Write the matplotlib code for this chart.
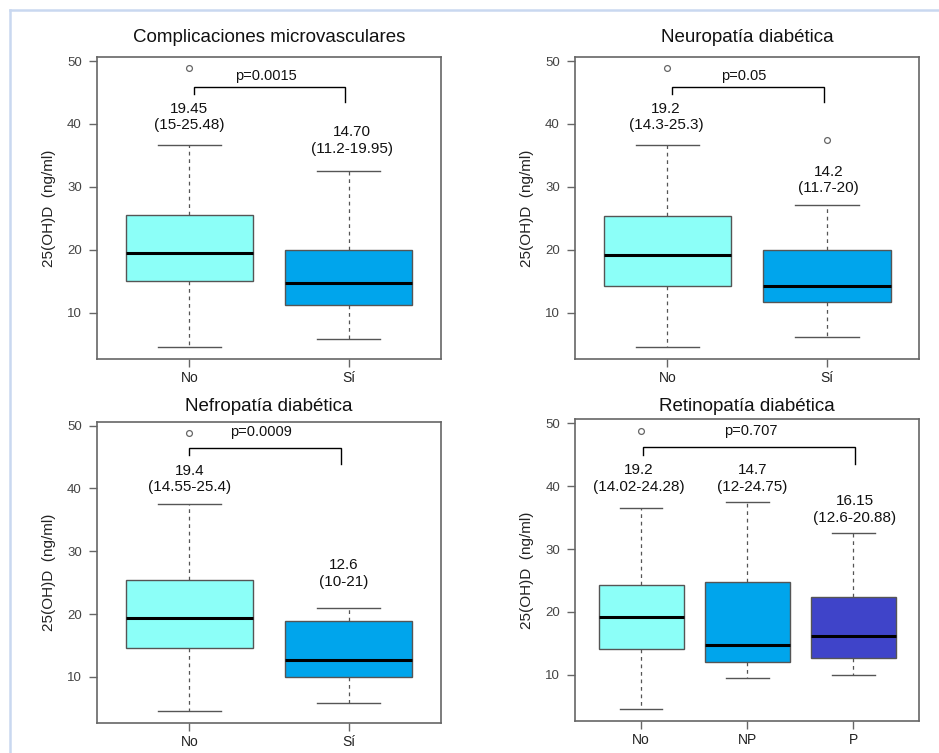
import matplotlib
matplotlib.use("Agg")
import matplotlib.pyplot as plt
from matplotlib.lines import Line2D

plt.rcParams['font.family'] = ['Liberation Sans', 'DejaVu Sans']

# ---- Complicaciones microvasculares ----
micro_groups = ["No", "Sí"]
micro_med = [19.45, 14.70]
micro_q1 = [15.0, 11.2]
micro_q3 = [25.48, 19.95]
micro_lo = [4.5, 5.8]
micro_hi = [36.6, 32.5]
micro_out = [[48.85], []]
micro_labels = ["19.45\n(15-25.48)", "14.70\n(11.2-19.95)"]
micro_p = "p=0.0015"

# ---- Neuropatía diabética ----
neuro_groups = ["No", "Sí"]
neuro_med = [19.2, 14.2]
neuro_q1 = [14.3, 11.7]
neuro_q3 = [25.3, 20.0]
neuro_lo = [4.5, 6.1]
neuro_hi = [36.6, 27.1]
neuro_out = [[48.85], [37.5]]
neuro_labels = ["19.2\n(14.3-25.3)", "14.2\n(11.7-20)"]
neuro_p = "p=0.05"

# ---- Nefropatía diabética ----
nefro_groups = ["No", "Sí"]
nefro_med = [19.4, 12.6]
nefro_q1 = [14.55, 10.0]
nefro_q3 = [25.4, 18.85]
nefro_lo = [4.5, 5.8]
nefro_hi = [37.5, 21.0]
nefro_out = [[48.85], []]
nefro_labels = ["19.4\n(14.55-25.4)", "12.6\n(10-21)"]
nefro_p = "p=0.0009"

# ---- Retinopatía diabética ----
retino_groups = ["No", "NP", "P"]
retino_med = [19.2, 14.7, 16.15]
retino_q1 = [14.02, 12.0, 12.6]
retino_q3 = [24.28, 24.75, 22.4]
retino_lo = [4.5, 9.5, 9.9]
retino_hi = [36.6, 37.5, 32.5]
retino_out = [[48.85], [], []]
retino_labels = ["19.2\n(14.02-24.28)", "14.7\n(12-24.75)", "16.15\n(12.6-20.88)"]
retino_p = "p=0.707"

FILL = ["#8cfff8", "#00a5ec", "#3f44c9"]

W, H = 939, 753
fig = plt.figure(figsize=(W / 100, H / 100), dpi=100)
fig.patch.set_facecolor("white")


def frac(x0, y_top, x1, y_bot):
    return [x0 / W, 1 - y_bot / H, (x1 - x0) / W, (y_bot - y_top) / H]


panels = [
    dict(title="Complicaciones microvasculares", rect=frac(97, 57, 441, 359), title_y=37.7,
         groups=micro_groups, med=micro_med, q1=micro_q1, q3=micro_q3, lo=micro_lo,
         hi=micro_hi, out=micro_out, labels=micro_labels, p=micro_p,
         label_pos=[(1.0, 41.1), (2.02, 37.4)],
         bracket=(1.03, 1.98, 45.9, 44.7, 43.45), p_pos=(1.48, 47.6)),
    dict(title="Neuropatía diabética", rect=frac(575, 57, 919.3, 359), title_y=37.7,
         groups=neuro_groups, med=neuro_med, q1=neuro_q1, q3=neuro_q3, lo=neuro_lo,
         hi=neuro_hi, out=neuro_out, labels=neuro_labels, p=neuro_p,
         label_pos=[(0.99, 41.1), (2.01, 31.1)],
         bracket=(1.03, 1.98, 45.9, 44.7, 43.45), p_pos=(1.48, 47.6)),
    dict(title="Nefropatía diabética", rect=frac(97, 421.7, 441, 723), title_y=406.7,
         groups=nefro_groups, med=nefro_med, q1=nefro_q1, q3=nefro_q3, lo=nefro_lo,
         hi=nefro_hi, out=nefro_out, labels=nefro_labels, p=nefro_p,
         label_pos=[(1.0, 41.5), (1.97, 26.4)],
         bracket=(1.0, 1.95, 46.5, 45.3, 43.9), p_pos=(1.45, 49.0)),
    dict(title="Retinopatía diabética", rect=frac(575.3, 419.3, 919.3, 721), title_y=406.7,
         groups=retino_groups, med=retino_med, q1=retino_q1, q3=retino_q3, lo=retino_lo,
         hi=retino_hi, out=retino_out, labels=retino_labels, p=retino_p,
         label_pos=[(0.98, 41.2), (2.05, 41.2), (3.01, 36.3)],
         bracket=(1.02, 3.01, 46.2, 45.0, 43.6), p_pos=(2.03, 48.7)),
]

edge = "#555555"
for pn in panels:
    ax = fig.add_axes(pn["rect"])
    n = len(pn["groups"])
    pos = list(range(1, n + 1))
    stats = []
    for i in range(n):
        stats.append(dict(med=pn["med"][i], q1=pn["q1"][i], q3=pn["q3"][i],
                          whislo=pn["lo"][i], whishi=pn["hi"][i], fliers=pn["out"][i]))
    bp = ax.bxp(stats, positions=pos, widths=0.8, capwidths=0.4, patch_artist=True,
                boxprops=dict(edgecolor=edge, linewidth=1.0),
                whiskerprops=dict(color=edge, linewidth=0.9, linestyle=(0, (3, 3))),
                capprops=dict(color=edge, linewidth=1.0),
                medianprops=dict(color="black", linewidth=2.2, solid_capstyle="butt"),
                flierprops=dict(marker="o", markersize=4.2, markerfacecolor="none",
                                markeredgecolor="#666666", markeredgewidth=0.9))
    for patch, c in zip(bp["boxes"], FILL):
        patch.set_facecolor(c)

    span = n
    ax.set_xlim(0.5 - 0.04 * span, n + 0.5 + 0.04 * span)
    ax.set_ylim(2.64, 50.64)
    ax.set_xticks(pos)
    ax.set_xticklabels(pn["groups"], fontsize=10, color="#222222")
    ax.set_yticks([10, 20, 30, 40, 50])
    ax.tick_params(axis="y", labelsize=9.5, labelcolor="#444444", length=6, width=1,
                   color="#666666", pad=5)
    ax.tick_params(axis="x", length=6, width=1, color="#666666", pad=3)
    for s in ax.spines.values():
        s.set_color("#666666")
        s.set_linewidth(1.2)
    ax.set_ylabel("25(OH)D  (ng/ml)", fontsize=11, color="#222222", labelpad=8)

    for (lx, ly), txt in zip(pn["label_pos"], pn["labels"]):
        ax.text(lx, ly, txt, ha="center", va="center", fontsize=11, linespacing=1.25,
                color="#111111")

    x0, x1, ytop, yl, yr = pn["bracket"]
    ax.plot([x0, x0, x1, x1], [yl, ytop, ytop, yr], color="black", linewidth=1.0,
            solid_joinstyle="miter")
    ax.text(pn["p_pos"][0], pn["p_pos"][1], pn["p"], ha="center", va="center",
            fontsize=10.5, color="#111111")

    cx = (pn["rect"][0] + pn["rect"][2] / 2)
    fig.text(cx, 1 - pn["title_y"] / H, pn["title"], ha="center", va="center",
             fontsize=13.5, color="#111111")

# light page frame along the top and left edges
fig.add_artist(Line2D([9.5 / W, 1.0], [1 - 9.5 / H, 1 - 9.5 / H], color="#c9d8f0",
                      linewidth=1.8, transform=fig.transFigure))
fig.add_artist(Line2D([9.5 / W, 9.5 / W], [0.0, 1 - 9.5 / H], color="#c9d8f0",
                      linewidth=1.8, transform=fig.transFigure))

fig.savefig("out.png", dpi=100)
